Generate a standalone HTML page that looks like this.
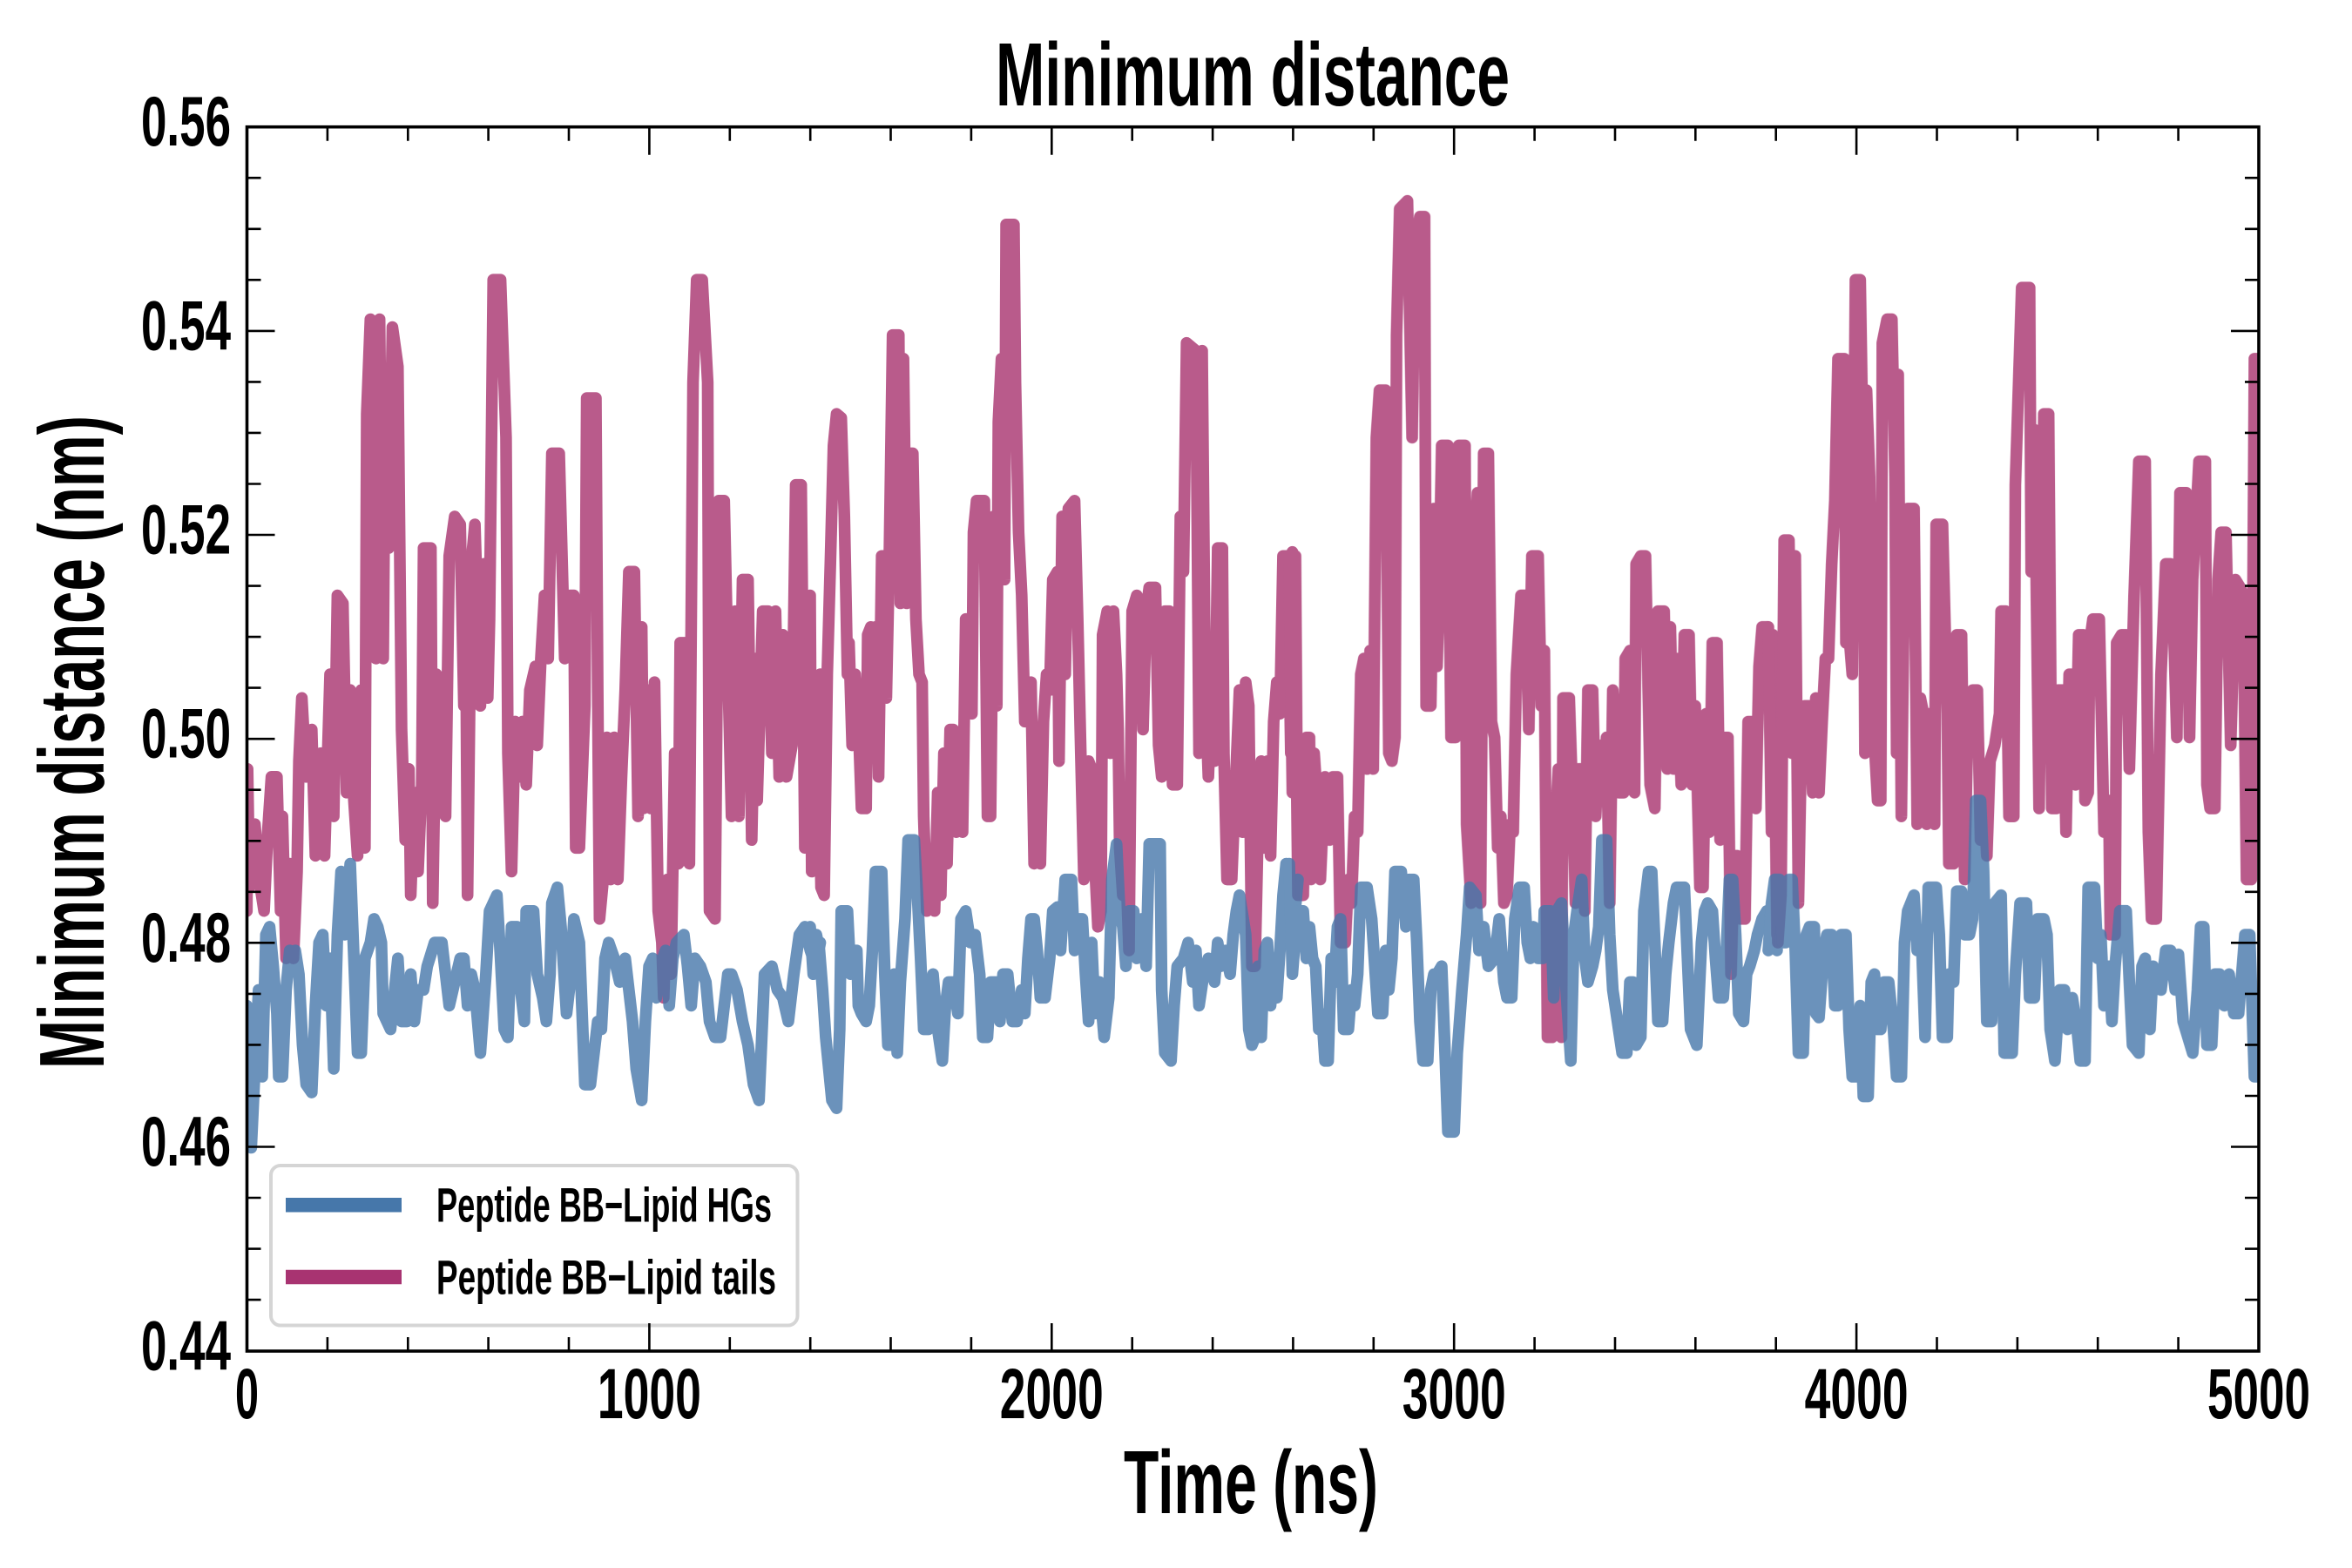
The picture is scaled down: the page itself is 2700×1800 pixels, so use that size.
<!DOCTYPE html>
<html>
<head>
<meta charset="utf-8">
<style>
html,body{margin:0;padding:0;background:#fff;}
svg{display:block;}
text{font-family:"Liberation Sans Narrow","Liberation Sans",sans-serif;font-weight:bold;fill:#000;}
</style>
</head>
<body>
<svg width="2700" height="1800" viewBox="0 0 2700 1800" xmlns="http://www.w3.org/2000/svg">
<rect width="2700" height="1800" fill="#fff"/>
<defs>
<clipPath id="pc"><rect x="283.5" y="145.7" width="2309.5" height="1405.3"/></clipPath>
</defs>

<!-- Magenta series (Lipid tails) -->
<g clip-path="url(#pc)">
<g opacity="0.8" fill="none" stroke="#a8336f" stroke-linejoin="round" stroke-linecap="round">
<g transform="translate(280,140) scale(0.420875,0.905797)">
<polyline vector-effect="non-scaling-stroke" stroke-width="13.5" points="8,1000 10,820 15,970 30,890 45,970 55,1000 65,900 75,830 90,830 100,1000 105,880 115,1060 125,940 135,1060 145,950 150,810 158,730 170,830 185,770 195,930 210,800 220,930 235,700 245,880 255,600 270,610 280,850 290,720 300,860 310,930 320,720 330,920 335,370 345,250 360,680 370,250 380,680 385,360 395,540 405,260 420,310 430,770 440,910 450,820 455,980 465,850 475,950 485,840 490,540 510,540 515,990 525,700 535,830 540,740 550,880 560,550 575,500 590,510 600,740 605,620 610,980 620,560 630,510 645,740 655,560 665,730 670,630 680,200 700,200 715,400 720,800 730,950 740,760 750,830 760,760 770,840 780,720 795,690 800,790 810,680 820,600 830,680 840,420 860,420 875,680 890,600 900,600 905,920 915,920 930,740 935,350 960,350 965,720 970,1010 980,960 990,780 1000,960 1010,780 1020,960 1030,830 1040,720 1050,570 1065,570 1075,880 1085,640 1090,870 1100,720 1110,870 1120,710 1130,1000 1140,1040 1145,1110 1155,960 1165,1080 1175,800 1185,940 1190,660 1205,660 1215,940 1225,330 1235,200 1250,200 1265,330 1270,1000 1285,1010 1295,480 1310,480 1320,690 1330,880 1340,620 1350,880 1360,580 1375,580 1385,910 1395,680 1400,860 1415,620 1430,620 1440,800 1450,620 1460,830 1470,650 1480,830 1495,790 1505,460 1520,460 1530,920 1545,760 1560,940 1572,700"/>
</g>
<g transform="translate(930,140) scale(0.357143,0.905797)">
<polyline vector-effect="non-scaling-stroke" stroke-width="13.5" points="0,600 5,950 15,750 25,750 35,970 45,980 55,700 65,560 75,410 85,370 100,375 110,500 120,700 125,660 135,790 145,700 155,760 165,870 180,870 185,650 195,640 205,780 210,640 220,830 230,550 240,550 245,730 255,540 265,270 285,270 290,610 300,300 310,610 320,420 330,420 340,630 350,700 360,710 365,880 375,1000 385,990 395,950 400,1000 410,850 420,980 430,800 440,940 450,770 460,770 470,900 480,800 490,900 500,630 510,630 520,750 525,520 535,480 560,480 570,880 580,880 590,500 600,740 605,380 615,300 625,580 630,130 655,130 660,330 670,520 680,600 690,760 700,720 710,710 720,940 730,820 740,940 750,760 760,700 770,720 780,580 795,570 800,810 810,500 820,700 830,490 850,480 860,630 870,800 880,960 895,810 905,820 915,940 925,1020 935,1000 940,650 955,620 965,800 975,620 985,700 990,770 995,920 1005,980 1015,940 1025,1050 1035,620 1050,600 1060,610 1070,770 1080,620 1090,590 1110,590 1120,790 1130,830 1140,620 1155,620 1165,840 1180,840 1190,500 1200,570 1210,280 1240,290 1250,800 1260,290 1270,720 1280,830 1290,720 1300,810 1310,540 1325,540 1330,800 1340,960 1355,960 1365,860 1380,720 1390,900 1400,710 1410,740 1420,1070 1430,1070 1440,890 1450,810 1460,920 1470,810 1480,930 1490,760 1500,710 1510,750 1520,550 1535,550 1545,800 1550,545 1560,700 1568,980"/>
</g>
<g transform="translate(1480,140) scale(0.357143,0.905797)">
<polyline vector-effect="non-scaling-stroke" stroke-width="13.5" points="0,550 10,850 20,550 25,830 35,980 45,980 55,780 65,780 70,960 80,800 90,860 100,960 110,870 115,830 130,910 140,830 155,830 165,1040 180,1040 190,960 200,990 210,880 220,900 230,700 240,680 250,820 260,670 270,820 280,400 290,340 310,340 320,800 330,810 340,780 345,270 355,110 380,100 395,400 405,160 420,120 435,120 440,740 455,740 465,490 475,690 480,630 490,410 510,410 520,780 535,780 540,700 545,410 565,410 570,890 585,990 595,540 605,470 615,990 625,420 640,420 650,760 660,780 670,920 680,880 690,990 700,980 710,890 720,900 730,700 745,600 760,600 770,770 780,550 800,550 810,740 820,670 830,1160 845,1160 855,900 865,820 875,1160 880,730 900,730 910,850 920,990 930,820 940,820 950,1000 960,720 975,720 985,880 995,790 1010,850 1020,780 1030,990 1040,720 1060,850 1075,850 1080,680 1095,670 1110,850 1115,560 1130,550 1145,550 1160,840 1175,870 1185,620 1205,620 1215,820 1225,640 1235,820 1245,680 1260,840 1270,650 1285,650 1295,840 1305,740 1320,970 1330,970 1340,750 1350,900 1360,660 1375,660 1385,910 1395,780 1410,780 1420,1080 1430,930 1440,930 1450,1010 1465,1010 1475,760 1490,760 1500,870 1510,690 1520,640 1535,640 1545,750 1555,650 1568,1030"/>
</g>
<g transform="translate(2030,140) scale(0.363520,0.905797)">
<polyline vector-effect="non-scaling-stroke" stroke-width="13.5" points="0,640 10,900 20,780 30,1040 40,980 50,530 65,530 75,800 85,550 95,990 105,770 115,740 130,740 140,850 150,730 160,850 170,760 180,680 190,680 200,560 210,480 220,300 240,300 245,660 255,650 265,700 275,200 290,200 300,450 305,800 310,340 320,450 330,750 345,860 355,860 360,280 375,250 390,250 400,450 405,800 410,320 420,880 430,550 440,490 460,490 470,890 480,730 490,750 500,890 510,750 525,890 530,510 550,510 565,750 570,940 585,940 595,650 610,650 620,960 630,750 645,720 660,720 670,910 680,860 690,930 700,810 715,790 730,750 735,620 750,620 760,880 775,880 780,460 800,210 825,210 830,570 840,390 855,870 870,370 885,370 895,870 910,870 915,720 930,720 940,900 950,700 960,700 970,840 980,650 995,650 1000,860 1010,850 1015,660 1025,630 1045,630 1060,900 1075,860 1080,1030 1095,1030 1100,660 1115,650 1130,650 1140,820 1155,600 1170,430 1190,430 1200,900 1210,1010 1225,1010 1240,700 1255,560 1270,560 1280,640 1290,780 1300,470 1320,470 1330,780 1340,580 1360,430 1380,430 1385,840 1395,870 1410,870 1420,580 1430,520 1445,520 1460,790 1475,580 1490,590 1500,600 1510,960 1525,960 1535,300 1560,300"/>
</g>
</g>

<!-- Blue series (Lipid HGs) -->
<g opacity="0.8" fill="none" stroke="#4677aa" stroke-linejoin="round" stroke-linecap="round">
<g transform="translate(280,140) scale(0.420875,0.905797)">
<polyline vector-effect="non-scaling-stroke" stroke-width="13.5" points="8,1120 20,1300 30,1200 40,1100 50,1210 60,1030 70,1020 80,1070 90,1130 95,1210 105,1210 115,1100 125,1050 135,1060 140,1050 150,1080 160,1170 170,1220 185,1230 195,1120 205,1040 215,1030 225,1120 235,1060 245,1200 255,1030 265,950 275,1030 290,940 300,1060 310,1180 320,1180 330,1060 345,1040 355,1010 365,1020 375,1040 380,1130 400,1150 420,1060 430,1140 445,1140 455,1080 465,1140 475,1100 490,1100 500,1070 520,1040 540,1040 550,1080 560,1120 575,1090 590,1060 600,1060 610,1120 620,1080 630,1100 645,1180 660,1080 670,1000 690,980 700,1060 710,1150 720,1160 730,1020 745,1020 755,1100 765,1140 770,1000 790,1000 800,1080 815,1110 825,1140 835,1080 840,990 855,970 865,1020 880,1130 890,1090 900,1010 915,1040 930,1220 945,1220 955,1180 965,1140 975,1150 985,1060 995,1040 1010,1060 1025,1090 1040,1060 1050,1100 1060,1140 1070,1200 1085,1240 1095,1140 1105,1070 1115,1060 1125,1110 1135,1070 1150,1050 1160,1120 1170,1060 1180,1040 1200,1030 1210,1070 1220,1120 1230,1060 1245,1070 1260,1090 1270,1140 1285,1160 1300,1160 1310,1120 1320,1080 1330,1080 1345,1100 1360,1140 1375,1170 1390,1220 1405,1240 1420,1080 1440,1070 1455,1100 1470,1110 1485,1140 1500,1080 1515,1030 1530,1020 1545,1050 1560,1070 1572,1040"/>
</g>
<g transform="translate(930,140) scale(0.357143,0.905797)">
<polyline vector-effect="non-scaling-stroke" stroke-width="13.5" points="0,1020 10,1080 20,1030 30,1050 40,1100 50,1160 60,1200 70,1240 85,1250 95,1150 100,1000 120,1000 130,1080 140,1050 150,1050 155,1120 165,1130 180,1140 190,1120 200,1050 210,950 230,950 240,1080 250,1170 260,1170 270,1080 280,1180 290,1090 305,1010 315,910 335,910 345,980 355,1060 365,1150 380,1150 395,1080 410,1150 425,1190 435,1120 445,1090 460,1090 475,1130 485,1010 500,1000 515,1040 530,1030 545,1080 555,1160 570,1160 580,1090 600,1090 610,1140 620,1080 635,1080 650,1140 665,1140 680,1100 690,1130 700,1060 710,1010 720,1010 730,1050 740,1110 755,1110 770,1060 780,1000 795,995 805,1050 820,960 840,960 850,1050 860,1010 875,1010 885,1080 895,1140 905,1040 915,1130 930,1090 945,1160 960,1110 970,960 985,915 995,1000 1005,1020 1015,1070 1025,1000 1040,1000 1050,1060 1065,1010 1080,1070 1090,915 1125,915 1130,1100 1140,1180 1160,1190 1170,1120 1180,1070 1200,1060 1215,1040 1230,1090 1240,1050 1250,1120 1265,1080 1280,1060 1300,1090 1310,1040 1320,1070 1335,1050 1350,1080 1360,1030 1370,1000 1380,980 1400,1030 1410,1150 1420,1170 1430,1160 1440,1070 1450,1160 1460,1050 1470,1040 1480,1120 1490,1060 1500,1110 1510,1050 1520,980 1530,940 1540,1000 1550,1040 1568,960"/>
</g>
<g transform="translate(1480,140) scale(0.357143,0.905797)">
<polyline vector-effect="non-scaling-stroke" stroke-width="13.5" points="0,940 10,1080 20,1030 30,1000 45,1000 55,1060 65,1020 75,1060 85,1070 95,1150 105,1130 115,1190 125,1190 135,1060 145,1090 155,1020 165,1010 175,1150 190,1150 200,1100 210,1120 220,1080 230,970 250,970 265,1010 275,1070 285,1130 300,1130 310,1050 320,1100 330,1060 340,950 360,950 375,1020 385,960 400,960 410,1040 420,1140 430,1190 445,1190 455,1100 465,1080 475,1080 490,1070 500,1170 510,1280 530,1280 540,1180 555,1100 570,1030 580,970 600,980 610,1050 625,1020 640,1070 660,1060 675,1010 690,1090 700,1110 715,1110 725,1010 740,970 755,970 765,1040 775,1060 785,1020 800,1060 815,1060 820,1000 840,1000 850,1110 860,1000 875,990 890,1100 905,1190 915,1030 925,1000 940,960 950,1060 960,1090 975,1070 985,1050 995,1020 1005,910 1020,910 1030,1030 1040,1100 1055,1140 1070,1180 1085,1180 1095,1090 1105,1090 1115,1170 1130,1160 1140,1000 1155,950 1165,950 1175,1040 1185,1140 1200,1140 1210,1080 1220,1040 1235,990 1245,970 1270,970 1280,1060 1290,1150 1310,1170 1325,1040 1335,1000 1345,990 1360,1000 1370,1060 1380,1110 1395,1110 1405,1050 1415,960 1425,960 1435,1030 1445,1130 1460,1140 1470,1080 1480,1070 1495,1050 1505,1030 1520,1010 1535,1000 1545,1020 1555,990 1568,1050"/>
</g>
<g transform="translate(2030,140) scale(0.363520,0.905797)">
<polyline vector-effect="non-scaling-stroke" stroke-width="13.5" points="0,1050 10,990 20,960 35,960 45,1040 55,1040 65,960 75,960 85,1050 95,1180 110,1180 120,1030 130,1020 145,1020 150,1130 160,1135 175,1050 185,1030 200,1030 210,1120 220,1120 230,1030 245,1030 255,1150 265,1210 280,1210 290,1120 300,1235 315,1235 325,1090 335,1080 345,1150 355,1150 365,1090 380,1090 395,1150 405,1210 420,1210 430,1040 440,1000 460,980 470,1050 485,1050 495,1160 505,970 530,970 540,1030 550,1160 565,1160 570,1080 585,1090 595,975 610,975 620,1030 635,1030 645,1010 655,860 670,860 680,950 690,1140 705,1140 715,990 735,980 745,1180 770,1180 780,1080 795,990 815,990 825,1110 840,1110 850,1010 870,1010 880,1030 890,1150 905,1190 920,1100 935,1100 945,1150 960,1110 975,1150 985,1190 1000,1190 1010,970 1030,970 1040,1060 1050,1030 1060,1120 1075,1070 1085,1140 1095,1070 1110,1000 1130,1000 1140,1090 1150,1170 1170,1180 1180,1070 1190,1060 1205,1150 1215,1070 1225,1080 1240,1100 1255,1050 1270,1050 1285,1100 1295,1055 1310,1140 1325,1160 1340,1180 1355,1100 1365,1020 1375,1020 1385,1170 1400,1170 1410,1080 1425,1080 1440,1120 1455,1080 1470,1130 1485,1130 1495,1080 1505,1030 1520,1030 1535,1210 1560,1210"/>
</g>
</g>
</g>

<!-- Legend -->
<rect x="311" y="1338" width="604.5" height="183.5" rx="11" ry="11" fill="#fff" fill-opacity="0.8" stroke="#d5d5d5" stroke-width="4"/>
<line x1="328" y1="1383.3" x2="461" y2="1383.3" stroke="#4677aa" stroke-width="16.5"/>
<line x1="328" y1="1466" x2="461" y2="1466" stroke="#a83371" stroke-width="16.5"/>
<text x="501" y="1402.7" font-size="56" textLength="385" lengthAdjust="spacingAndGlyphs">Peptide BB−Lipid HGs</text>
<text x="501" y="1485.7" font-size="56" textLength="390" lengthAdjust="spacingAndGlyphs">Peptide BB−Lipid tails</text>

<!-- Ticks -->
<path fill="none" stroke="#000" stroke-width="2.6" d="
M745.4 1551v-32 M1207.3 1551v-32 M1669.2 1551v-32 M2131.1 1551v-32
M375.9 1551v-16 M468.3 1551v-16 M560.6 1551v-16 M653.0 1551v-16 M837.8 1551v-16 M930.2 1551v-16 M1022.5 1551v-16 M1114.9 1551v-16 M1299.7 1551v-16 M1392.1 1551v-16 M1484.4 1551v-16 M1576.8 1551v-16 M1761.6 1551v-16 M1854.0 1551v-16 M1946.3 1551v-16 M2038.7 1551v-16 M2223.5 1551v-16 M2315.9 1551v-16 M2408.2 1551v-16 M2500.6 1551v-16
M745.4 145.7v32 M1207.3 145.7v32 M1669.2 145.7v32 M2131.1 145.7v32
M375.9 145.7v16 M468.3 145.7v16 M560.6 145.7v16 M653.0 145.7v16 M837.8 145.7v16 M930.2 145.7v16 M1022.5 145.7v16 M1114.9 145.7v16 M1299.7 145.7v16 M1392.1 145.7v16 M1484.4 145.7v16 M1576.8 145.7v16 M1761.6 145.7v16 M1854.0 145.7v16 M1946.3 145.7v16 M2038.7 145.7v16 M2223.5 145.7v16 M2315.9 145.7v16 M2408.2 145.7v16 M2500.6 145.7v16
M283.5 379.9h32 M283.5 614.0h32 M283.5 848.2h32 M283.5 1082.3h32 M283.5 1316.5h32
M283.5 204.2h16 M283.5 262.8h16 M283.5 321.3h16 M283.5 438.4h16 M283.5 496.9h16 M283.5 555.5h16 M283.5 672.6h16 M283.5 731.1h16 M283.5 789.6h16 M283.5 906.7h16 M283.5 965.3h16 M283.5 1023.8h16 M283.5 1140.9h16 M283.5 1199.4h16 M283.5 1258.0h16 M283.5 1375.0h16 M283.5 1433.6h16 M283.5 1492.1h16
M2593 379.9h-32 M2593 614.0h-32 M2593 848.2h-32 M2593 1082.3h-32 M2593 1316.5h-32
M2593 204.2h-16 M2593 262.8h-16 M2593 321.3h-16 M2593 438.4h-16 M2593 496.9h-16 M2593 555.5h-16 M2593 672.6h-16 M2593 731.1h-16 M2593 789.6h-16 M2593 906.7h-16 M2593 965.3h-16 M2593 1023.8h-16 M2593 1140.9h-16 M2593 1199.4h-16 M2593 1258.0h-16 M2593 1375.0h-16 M2593 1433.6h-16 M2593 1492.1h-16
"/>

<!-- Frame -->
<rect x="283.5" y="145.7" width="2309.5" height="1405.3" fill="none" stroke="#000" stroke-width="3.6"/>

<!-- Y tick labels -->
<g font-size="81" text-anchor="end">
<text x="265" y="167.2" textLength="103" lengthAdjust="spacingAndGlyphs">0.56</text>
<text x="265" y="401.4" textLength="103" lengthAdjust="spacingAndGlyphs">0.54</text>
<text x="265" y="635.5" textLength="103" lengthAdjust="spacingAndGlyphs">0.52</text>
<text x="265" y="869.7" textLength="103" lengthAdjust="spacingAndGlyphs">0.50</text>
<text x="265" y="1103.8" textLength="103" lengthAdjust="spacingAndGlyphs">0.48</text>
<text x="265" y="1338" textLength="103" lengthAdjust="spacingAndGlyphs">0.46</text>
<text x="265" y="1572.5" textLength="103" lengthAdjust="spacingAndGlyphs">0.44</text>
</g>

<!-- X tick labels -->
<g font-size="82" text-anchor="middle">
<text x="283.5" y="1628" textLength="27" lengthAdjust="spacingAndGlyphs">0</text>
<text x="745.4" y="1628" textLength="119" lengthAdjust="spacingAndGlyphs">1000</text>
<text x="1207.3" y="1628" textLength="119" lengthAdjust="spacingAndGlyphs">2000</text>
<text x="1669.2" y="1628" textLength="119" lengthAdjust="spacingAndGlyphs">3000</text>
<text x="2131.1" y="1628" textLength="119" lengthAdjust="spacingAndGlyphs">4000</text>
<text x="2593" y="1628" textLength="118" lengthAdjust="spacingAndGlyphs">5000</text>
</g>

<!-- Title and axis labels -->
<text x="1438" y="121" font-size="103" text-anchor="middle" textLength="590" lengthAdjust="spacingAndGlyphs">Minimum distance</text>
<text x="1436" y="1737" font-size="103" text-anchor="middle" textLength="292" lengthAdjust="spacingAndGlyphs">Time (ns)</text>
<text transform="translate(119,852) rotate(-90)" x="0" y="0" font-size="106" text-anchor="middle" textLength="750" lengthAdjust="spacingAndGlyphs">Minimum distance (nm)</text>
</svg>
</body>
</html>
